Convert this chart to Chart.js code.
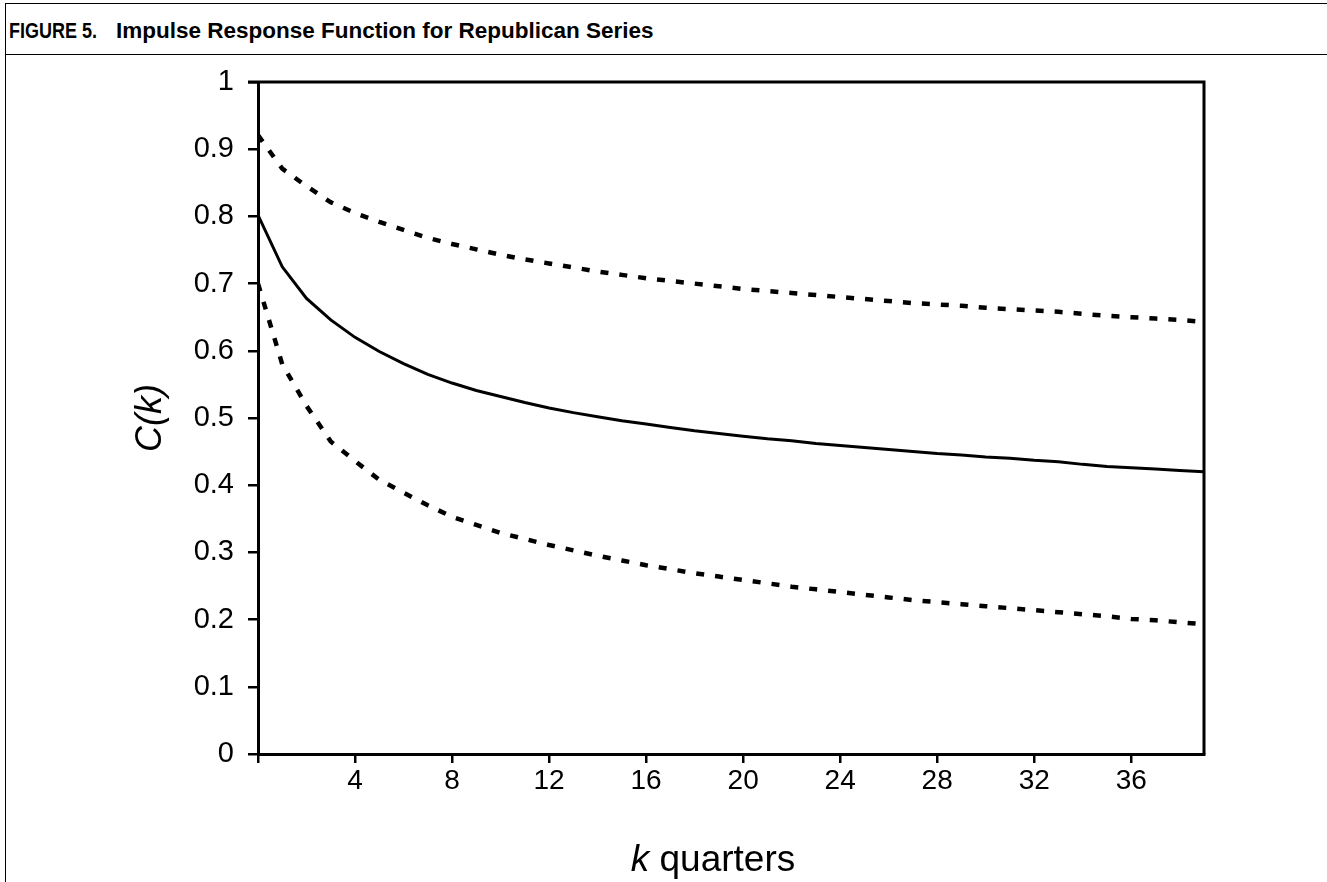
<!DOCTYPE html>
<html>
<head>
<meta charset="utf-8">
<script src="https://cdn.jsdelivr.net/npm/chart.js@4.4.1/dist/chart.umd.min.js"></script>
<style>
  html, body { margin: 0; padding: 0; background: #fff; }
  #wrap { position: relative; width: 1327px; height: 882px; overflow: hidden; background: #fff; }
  #frameTop { position: absolute; left: 5px; top: 3px; width: 1322px; height: 0; border-top: 1px solid #000; }
  #frameLeft { position: absolute; left: 5px; top: 3px; width: 0; height: 879px; border-left: 1.5px solid #000; }
  #rule { position: absolute; left: 5px; top: 54px; width: 1322px; height: 0; border-top: 1.5px solid #000; }
  #fig { position: absolute; left: 9px; top: 18px; font-family: "Liberation Sans", Arial, sans-serif; font-weight: bold; font-size: 22.5px; line-height: 26px; color: #000; white-space: pre; }
  #fig .lab { display: inline-block; width: 107px; }
  #fig .lab span { display: inline-block; transform: scaleX(0.8); transform-origin: 0 50%; }
  #ytitle { position: absolute; left: 149px; top: 418px; transform: translate(-50%, -50%) rotate(-90deg); font-family: "Liberation Sans", Arial, sans-serif; font-style: italic; font-size: 36px; line-height: 40px; color: #000; white-space: nowrap; }
  #xtitle { position: absolute; left: 713px; top: 838px; transform: translateX(-50%); font-family: "Liberation Sans", Arial, sans-serif; font-size: 37px; line-height: 41px; color: #000; white-space: nowrap; }
  #xtitle i { font-style: italic; }
  canvas { position: absolute; left: 0; top: 0; }
</style>
</head>
<body>
<div id="wrap">
  <div id="frameTop"></div>
  <div id="frameLeft"></div>
  <div id="fig"><span class="lab"><span>FIGURE 5.</span></span>Impulse Response Function for Republican Series</div>
  <div id="rule"></div>
  <canvas id="c" width="1327" height="882"></canvas>
  <div id="ytitle">C(k)</div>
  <div id="xtitle"><i>k</i> quarters</div>
</div>
<script>
// k = 0 .. 39 quarters
const kQuarters = [0,1,2,3,4,5,6,7,8,9,10,11,12,13,14,15,16,17,18,19,20,21,22,23,24,25,26,27,28,29,30,31,32,33,34,35,36,37,38,39];

// Point estimate C(k) (solid line)
const responseC = [0.802,0.725,0.678,0.646,0.620,0.599,0.581,0.565,0.552,0.541,
                   0.532,0.523,0.515,0.508,0.502,0.496,0.491,0.486,0.481,0.477,
                   0.473,0.469,0.466,0.462,0.459,0.456,0.453,0.450,0.447,0.445,
                   0.442,0.440,0.437,0.435,0.431,0.428,0.426,0.424,0.422,0.420];

// Upper confidence band (dotted)
const upperBand = [0.921,0.871,0.845,0.821,0.805,0.792,0.780,0.768,0.759,0.751,
                   0.743,0.736,0.730,0.724,0.718,0.713,0.708,0.704,0.700,0.696,
                   0.692,0.689,0.686,0.683,0.680,0.677,0.674,0.671,0.669,0.667,
                   0.664,0.662,0.660,0.658,0.655,0.652,0.650,0.648,0.646,0.643];

// Lower confidence band (dotted)
const lowerBand = [0.700,0.580,0.518,0.465,0.436,0.408,0.389,0.370,0.353,0.341,
                   0.329,0.320,0.311,0.303,0.295,0.288,0.281,0.275,0.269,0.264,
                   0.259,0.254,0.249,0.245,0.241,0.237,0.233,0.229,0.226,0.223,
                   0.220,0.217,0.214,0.211,0.208,0.205,0.201,0.199,0.196,0.193];

const xTickValues = [0,4,8,12,16,20,24,28,32,36];
const xTickLabels = ['', '4', '8', '12', '16', '20', '24', '28', '32', '36'];
const yTickValues = [0,0.1,0.2,0.3,0.4,0.5,0.6,0.7,0.8,0.9,1];
const yTickLabels = ['0','0.1','0.2','0.3','0.4','0.5','0.6','0.7','0.8','0.9','1'];

const toPts = arr => arr.map((v, i) => ({ x: kQuarters[i], y: v }));

const frame = {
  id: 'frame',
  afterDatasetsDraw(chart) {
    const { ctx, chartArea: a } = chart;
    ctx.save();
    ctx.strokeStyle = '#000';
    ctx.lineWidth = 3;
    ctx.beginPath();
    ctx.moveTo(a.left - 10, a.top);
    ctx.lineTo(a.right, a.top);
    ctx.lineTo(a.right, a.bottom);
    ctx.stroke();
    ctx.restore();
  }
};

const font = { family: '"Liberation Sans", Arial, sans-serif' };

new Chart(document.getElementById('c'), {
  type: 'line',
  data: {
    datasets: [
      { label: 'C(k)', data: toPts(responseC), borderColor: '#000', borderWidth: 3, pointRadius: 0, tension: 0, fill: false },
      { label: 'Upper', data: toPts(upperBand), borderColor: '#000', borderWidth: 4.5, borderDash: [8, 11], borderCapStyle: 'butt', pointRadius: 0, tension: 0, fill: false },
      { label: 'Lower', data: toPts(lowerBand), borderColor: '#000', borderWidth: 4.5, borderDash: [8, 11], borderCapStyle: 'butt', pointRadius: 0, tension: 0, fill: false }
    ]
  },
  options: {
    responsive: false,
    animation: false,
    devicePixelRatio: 1,
    layout: { padding: { top: 82, right: 123, left: 0, bottom: 0 } },
    plugins: { legend: { display: false }, tooltip: { enabled: false }, title: { display: false } },
    scales: {
      x: {
        type: 'linear', min: 0, max: 39, position: 'bottom',
        afterBuildTicks: s => { s.ticks = xTickValues.map(v => ({ value: v })); },
        afterFit: s => { s.height = 128; },
        ticks: {
          autoSkip: false, maxRotation: 0, minRotation: 0, padding: 1, color: '#000',
          font: { ...font, size: 28 },
          callback: (v) => { const i = xTickValues.indexOf(v); return i >= 0 ? xTickLabels[i] : ''; }
        },
        grid: { drawOnChartArea: false, drawTicks: true, tickLength: 9, color: '#000', lineWidth: 2.5 },
        border: { display: true, color: '#000', width: 3 }
      },
      y: {
        type: 'linear', min: 0, max: 1, position: 'left',
        afterBuildTicks: s => { s.ticks = yTickValues.map(v => ({ value: v })); },
        afterFit: s => { s.width = 258; },
        ticks: {
          padding: 14, color: '#000',
          font: { ...font, size: 29 },
          callback: (v) => { const i = yTickValues.findIndex(t => Math.abs(t - v) < 1e-9); return i >= 0 ? yTickLabels[i] : ''; }
        },
        grid: { drawOnChartArea: false, drawTicks: true, tickLength: 10, color: '#000', lineWidth: 2.5 },
        border: { display: true, color: '#000', width: 3 }
      }
    }
  },
  plugins: [frame]
});
</script>
</body>
</html>
